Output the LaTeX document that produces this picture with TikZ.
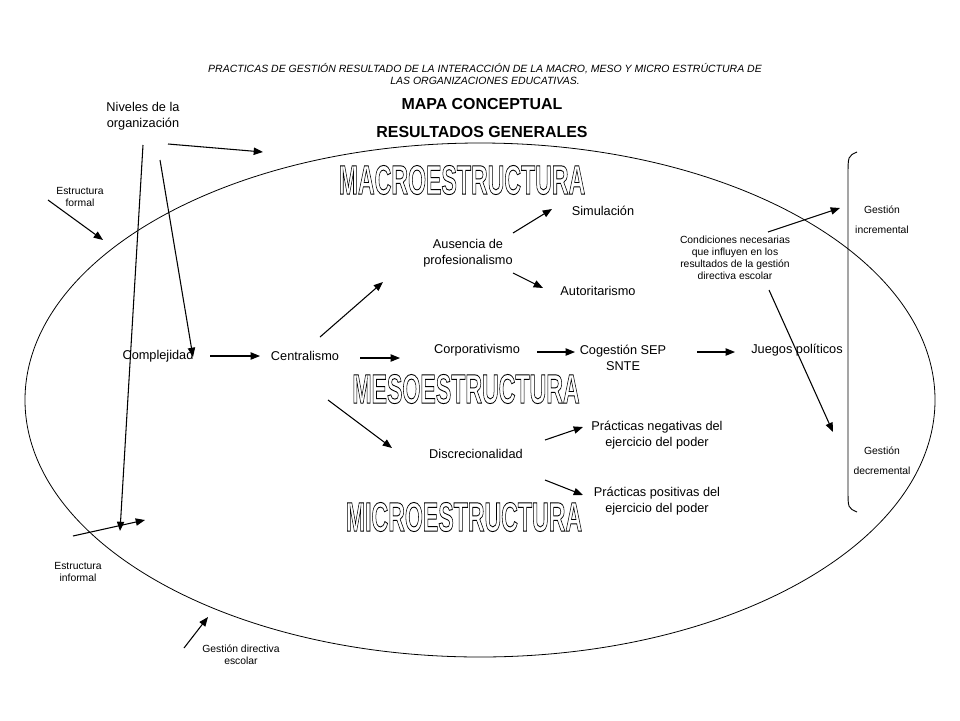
\documentclass[tikz,border=0pt]{standalone}
\usepackage{fontspec}
\setmainfont{Liberation Sans}
\usetikzlibrary{arrows.meta}

% hollow (outlined) heading words: glyphs stroked, not filled
\newcommand{\hollowword}[3]{%
  \node[hollow] (#1) at (#2) {\scalebox{0.87}[1.55]{\special{pdf:code q 1 Tr 0.45 w}#3\special{pdf:code Q}}};
}

\begin{document}
\begin{tikzpicture}[x=0.02646cm,y=-0.02646cm,
    >={Triangle[length=7pt,width=5.5pt]},
    txt/.style={font=\fontsize{9.6}{12}\selectfont, align=center, inner sep=1pt},
    small/.style={font=\fontsize{7.8}{9}\selectfont, align=center, inner sep=1pt},
    head/.style={font=\bfseries\fontsize{12}{14}\selectfont, inner sep=1pt},
    hollow/.style={font=\bfseries\fontsize{20}{20}\selectfont, inner sep=0pt},
    arr/.style={->, line width=0.8pt}]
  \useasboundingbox (0,0) rectangle (960,720);

  % Titles
  \node[font=\itshape\fontsize{7.9}{9}\selectfont, align=center] (Tit) at (485,74)
    {PRACTICAS DE GESTIÓN RESULTADO DE LA INTERACCIÓN DE LA MACRO, MESO Y MICRO ESTRÚCTURA DE\\LAS ORGANIZACIONES EDUCATIVAS.};
  \node[head] (Mapa) at (482,104) {MAPA CONCEPTUAL};
  \node[head] (Res) at (482,132) {RESULTADOS GENERALES};

  % Frame
  \draw[line width=0.6pt] (480,400) ellipse [x radius=455, y radius=257];
  \draw[line width=0.7pt] (857,152) .. controls (848,156) .. (848,176) -- (848,490)
    .. controls (848,508) .. (857,512);

  % Structure levels
  \hollowword{Macro}{462,180}{MACROESTRUCTURA}
  \hollowword{Meso}{466,389}{MESOESTRUCTURA}
  \hollowword{Micro}{464,517}{MICROESTRUCTURA}

  % Concept nodes
  \node[txt] (Niv) at (143,116) {Niveles de la\\organización};
  \node[small] (EForm) at (80,197) {Estructura\\formal};
  \node[small] (EInf) at (78,572) {Estructura\\informal};
  \node[small] (GDir) at (241,655) {Gestión directiva\\escolar};
  \node[txt] (Comp) at (158,356) {Complejidad};
  \node[txt] (Cent) at (305,356) {Centralismo};
  \node[txt] (Aus) at (468,253) {Ausencia de\\profesionalismo};
  \node[txt] (Sim) at (603,211) {Simulación};
  \node[txt] (Aut) at (598,291) {Autoritarismo};
  \node[txt] (Corp) at (477,350) {Corporativismo};
  \node[txt] (Coge) at (623,358) {Cogestión SEP\\SNTE};
  \node[txt] (Jueg) at (797,350) {Juegos políticos};
  \node[txt] (Disc) at (476,454) {Discrecionalidad};
  \node[txt] (Neg) at (657,435) {Prácticas negativas del\\ejercicio del poder};
  \node[txt] (Pos) at (657,501) {Prácticas positivas del\\ejercicio del poder};
  \node[small] (Cond) at (735,258) {Condiciones necesarias\\que influyen en los\\resultados de la gestión\\directiva escolar};
  \node[small] (Inc) at (882,220) {Gestión\\[6pt]incremental};
  \node[small] (Dec) at (882,461) {Gestión\\[6pt]decremental};

  % Free ends
  \coordinate (NivT) at (263,152);
  \coordinate (NivB) at (120,531);
  \coordinate (EFormT) at (103,240);
  \coordinate (EInfT) at (145,520);
  \coordinate (GDirT) at (208,617);

  % Arrows
  \draw[arr] ([shift={(25,28)}]Niv.center) -- (NivT);
  \draw[arr] ([shift={(0,29)}]Niv.center) -- (NivB);
  \draw[arr] ([shift={(17,44)}]Niv.center) -- ([shift={(35,1)}]Comp.center);
  \draw[arr] ([shift={(-32,3)}]EForm.center) -- (EFormT);
  \draw[arr] ([shift={(-5,-36)}]EInf.center) -- (EInfT);
  \draw[arr] ([shift={(-57,-7)}]GDir.center) -- (GDirT);
  \draw[arr] ([shift={(52,0)}]Comp.center) -- ([shift={(-45,0)}]Cent.center);
  \draw[arr] ([shift={(15,-19)}]Cent.center) -- ([shift={(-85,29)}]Aus.center);
  \draw[arr] ([shift={(55,2)}]Cent.center) -- ([shift={(-77,8)}]Corp.center);
  \draw[arr] ([shift={(23,44)}]Cent.center) -- ([shift={(-84,-6)}]Disc.center);
  \draw[arr] ([shift={(45,-20)}]Aus.center) -- ([shift={(-51,-2)}]Sim.center);
  \draw[arr] ([shift={(45,20)}]Aus.center) -- ([shift={(-55,-3)}]Aut.center);
  \draw[arr] ([shift={(60,2)}]Corp.center) -- ([shift={(-48,-6)}]Coge.center);
  \draw[arr] ([shift={(74,-6)}]Coge.center) -- ([shift={(-62,2)}]Jueg.center);
  \draw[arr] ([shift={(69,-14)}]Disc.center) -- ([shift={(-74,-8)}]Neg.center);
  \draw[arr] ([shift={(69,26)}]Disc.center) -- ([shift={(-74,-6)}]Pos.center);
  \draw[arr] ([shift={(33,-26)}]Cond.center) -- ([shift={(-42,-12)}]Inc.center);
  \draw[arr] ([shift={(34,32)}]Cond.center) -- ([shift={(-49,-29)}]Dec.center);
\end{tikzpicture}
\end{document}
